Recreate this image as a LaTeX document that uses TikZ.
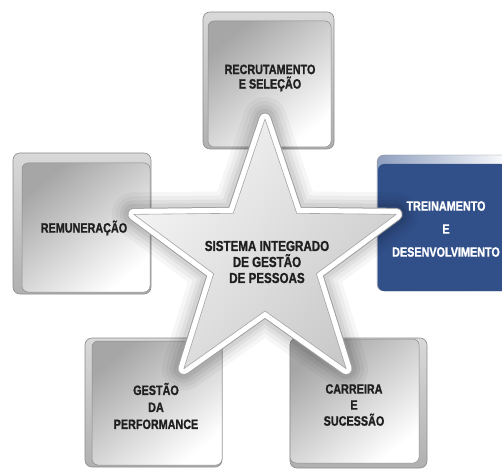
\documentclass[tikz,border=0pt]{standalone}
\usepackage{fontspec}
\newfontfamily\keyfont[FakeStretch=0.8, FakeBold=1.2]{Liberation Sans Bold}
\definecolor{trainblue}{HTML}{31508A}
\definecolor{keyline}{HTML}{8C8C8C}

\tikzset{
  keyrim/.style={draw=keyline, line width=0.6pt, rounded corners=7pt,
    top color=gray!30, bottom color=gray!62},
  keyface/.style={draw=keyline, line width=0.5pt, rounded corners=6pt,
    top color=gray!70, bottom color=white, shading angle=40},
  keylabel/.style={font=\keyfont\fontsize{13.5}{16}\selectfont,
    align=center, text=black!88, inner sep=0pt},
}

\begin{document}
\begin{tikzpicture}[x=1pt, y=-1pt]
  \useasboundingbox (0,0) rectangle (502,470);

  % the five keys
  \draw[keyrim]  (203,12) rectangle (334,149);
  \draw[keyface] (208,21) rectangle (331,147);

  \draw[keyrim]  (13,153) rectangle (151,294);
  \draw[keyface] (22,163) rectangle (150,292);

  \draw[keyrim]  (85,338) rectangle (222,467);
  \draw[keyface] (92,341) rectangle (222,465);

  \draw[keyrim]  (290,338) rectangle (427,468);
  \draw[keyface] (290,339) rectangle (419,463);

  \draw[draw=keyline, rounded corners=7pt, left color=trainblue!55,
    right color=white] (377,155) rectangle (512,291);
  \fill[trainblue, rounded corners=6pt] (378,164) rectangle (512,291);

  % star in the middle, with its shadow and white rim
  \begin{scope}[shift={(265,257)}, line join=round]
    \foreach \w/\o in {44/0.035, 36/0.04, 28/0.05, 21/0.06}
      \draw[line width=\w pt, draw=black, draw opacity=\o]
        (-90:138) -- (-54:54) -- (-18:138) -- (18:54) -- (54:138)
        -- (90:54) -- (126:138) -- (162:54) -- (198:138) -- (234:54) -- cycle;
    \foreach \w/\c in {13/gray!75, 11/white}
      \draw[line width=\w pt, draw=\c]
        (-90:138) -- (-54:54) -- (-18:138) -- (18:54) -- (54:138)
        -- (90:54) -- (126:138) -- (162:54) -- (198:138) -- (234:54) -- cycle;
    \draw[draw=gray!70, line width=0.6pt, top color=gray!8,
      bottom color=gray!42, shading angle=50]
      (-90:138) -- (-54:54) -- (-18:138) -- (18:54) -- (54:138)
      -- (90:54) -- (126:138) -- (162:54) -- (198:138) -- (234:54) -- cycle;
  \end{scope}

  % labels
  \node[keylabel, font=\keyfont\fontsize{13.5}{14.5}\selectfont]
    (recruit) at (270,78) {RECRUTAMENTO\\E SELEÇÃO};
  \node[keylabel] (salary) at (84,228) {REMUNERAÇÃO};
  \node[keylabel, text=white, font=\keyfont\fontsize{13.5}{23}\selectfont]
    (training) at (446,229) {TREINAMENTO\\E\\DESENVOLVIMENTO};
  \node[keylabel, font=\keyfont\fontsize{14.5}{16}\selectfont]
    (hub) at (267,262) {SISTEMA INTEGRADO\\DE GESTÃO\\DE PESSOAS};
  \node[keylabel, font=\keyfont\fontsize{13.5}{17}\selectfont]
    (perform) at (156,406) {GESTÃO\\DA\\PERFORMANCE};
  \node[keylabel] (career) at (354,405) {CARREIRA\\E\\SUCESSÃO};
\end{tikzpicture}
\end{document}
